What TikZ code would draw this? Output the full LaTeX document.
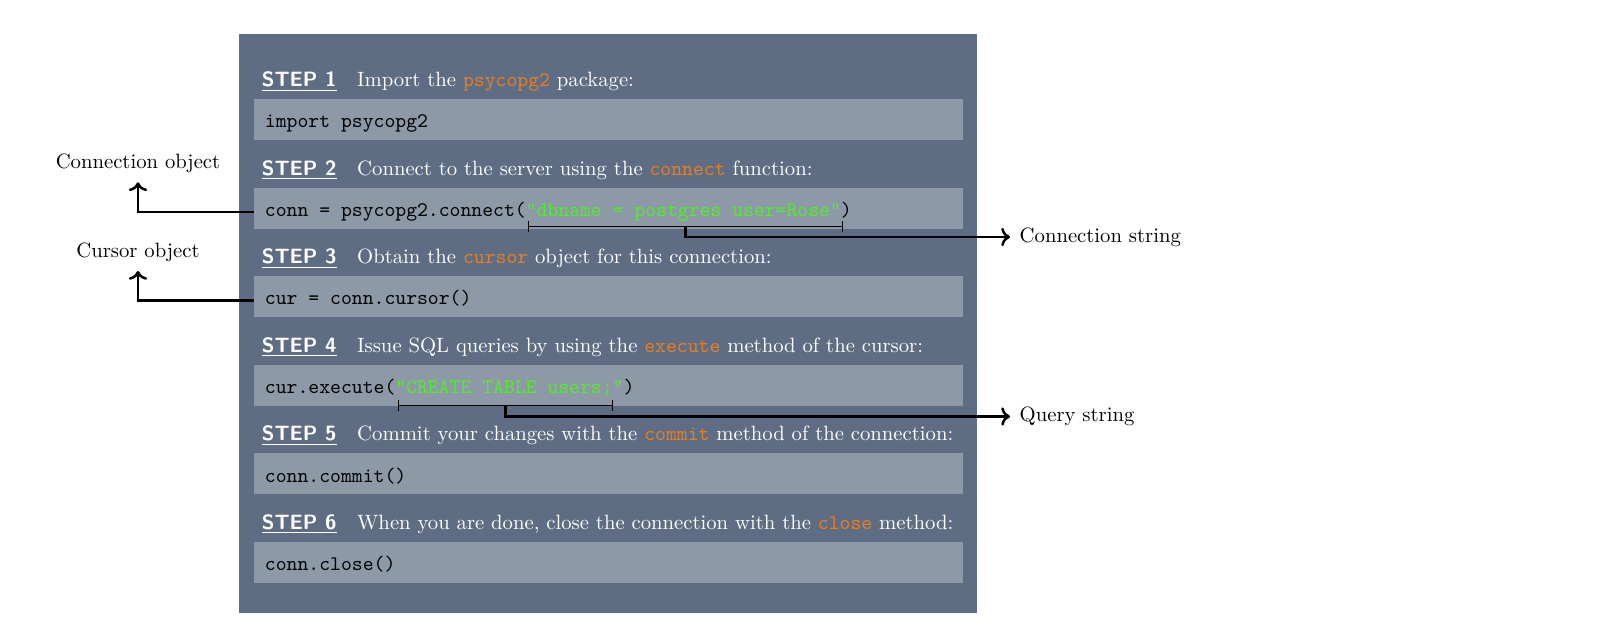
\documentclass[tikz,border=0pt]{standalone}
\usetikzlibrary{arrows.meta,calc}

\definecolor{panelbg}{RGB}{94,109,131}
\definecolor{codebg}{RGB}{141,153,167}
\definecolor{kwcolor}{RGB}{232,126,34}
\definecolor{strcolor}{RGB}{85,235,45}

% keyword, string literal and step marker inside the panel
\newcommand{\kw}[1]{\textcolor{kwcolor}{\texttt{#1}}}
\newcommand{\strlit}[1]{\textcolor{strcolor}{#1}}
\newcommand{\stepno}[1]{\underline{\textsf{\bfseries STEP #1}}\quad}
% one drawing unit
\def\pxu{0.4831pt}

\begin{document}
\begin{tikzpicture}[x=0.4831pt,y=-0.4831pt,
  panel/.style={fill=panelbg, draw=none, minimum width=738.5*\pxu, minimum height=579*\pxu, inner sep=0},
  codebox/.style={fill=codebg, draw=none, minimum width=709*\pxu, minimum height=40.7*\pxu, inner sep=0},
  stephead/.style={anchor=base west, inner sep=0, text=white},
  codeline/.style={anchor=base west, inner sep=0, font=\ttfamily, text=black},
  sidelabel/.style={inner sep=4.5pt, text=black},
  leader/.style={line width=1.2pt, ->},
  bracket/.style={line width=0.5pt, {Bar[width=5pt]}-{Bar[width=5pt]}},
]
\useasboundingbox (0,0) rectangle (1623,642);

% background panel
\node[panel] (panel) at (607.75,323.5) {};

% code boxes
\node[codebox] (b1) at (608.5,119.6) {};
\node[codebox] (b2) at (608.5,208.2) {};
\node[codebox] (b3) at (608.5,296.7) {};
\node[codebox] (b4) at (608.5,385.3) {};
\node[codebox] (b5) at (608.5,473.8) {};
\node[codebox] (b6) at (608.5,562.4) {};

% step headings
\node[stephead] (h1) at ([xshift=3.8pt,yshift=5.9pt]b1.north west) {\stepno{1}Import the \kw{psycopg2} package:};
\node[stephead] (h2) at ([xshift=3.8pt,yshift=5.9pt]b2.north west) {\stepno{2}Connect to the server using the \kw{connect} function:};
\node[stephead] (h3) at ([xshift=3.8pt,yshift=5.9pt]b3.north west) {\stepno{3}Obtain the \kw{cursor} object for this connection:};
\node[stephead] (h4) at ([xshift=3.8pt,yshift=5.9pt]b4.north west) {\stepno{4}Issue SQL queries by using the \kw{execute} method of the cursor:};
\node[stephead] (h5) at ([xshift=3.8pt,yshift=5.9pt]b5.north west) {\stepno{5}Commit your changes with the \kw{commit} method of the connection:};
\node[stephead] (h6) at ([xshift=3.8pt,yshift=5.9pt]b6.north west) {\stepno{6}When you are done, close the connection with the \kw{close} method:};

% code lines
\node[codeline] (c1) at ([xshift=5.3pt,yshift=-4pt]b1.west) {import psycopg2};
\node[codeline] (c2) at ([xshift=5.3pt,yshift=-4pt]b2.west) {conn = psycopg2.connect(\strlit{"dbname = postgres user=Rose"})};
\node[codeline] (c3) at ([xshift=5.3pt,yshift=-4pt]b3.west) {cur = conn.cursor()};
\node[codeline] (c4) at ([xshift=5.3pt,yshift=-4pt]b4.west) {cur.execute(\strlit{"CREATE TABLE users;"})};
\node[codeline] (c5) at ([xshift=5.3pt,yshift=-4pt]b5.west) {conn.commit()};
\node[codeline] (c6) at ([xshift=5.3pt,yshift=-4pt]b6.west) {conn.close()};

% left annotations
\node[sidelabel, anchor=south] (connobj) at (138,182.3) {Connection object};
\draw[leader] (c2.mid west -| b2.west) -| (connobj.south);
\node[sidelabel, anchor=south] (curobj) at (138,271) {Cursor object};
\draw[leader] (c3.mid west -| b3.west) -| (curobj.south);

% right annotations
\coordinate (cs1) at (528,226.5);
\coordinate (cs2) at (843,226.5);
\coordinate (csm) at ($(cs1)!0.5!(cs2)$);
\draw[bracket] (cs1) -- (cs2);
\node[sidelabel, anchor=west] (connstr) at (1010,237) {Connection string};
\draw[leader] (csm) |- (connstr.west);

\coordinate (qs1) at (398,405.5);
\coordinate (qs2) at (613,405.5);
\coordinate (qsm) at ($(qs1)!0.5!(qs2)$);
\draw[bracket] (qs1) -- (qs2);
\node[sidelabel, anchor=west] (qstr) at (1010,416.5) {Query string};
\draw[leader] (qsm) |- (qstr.west);
\end{tikzpicture}
\end{document}
